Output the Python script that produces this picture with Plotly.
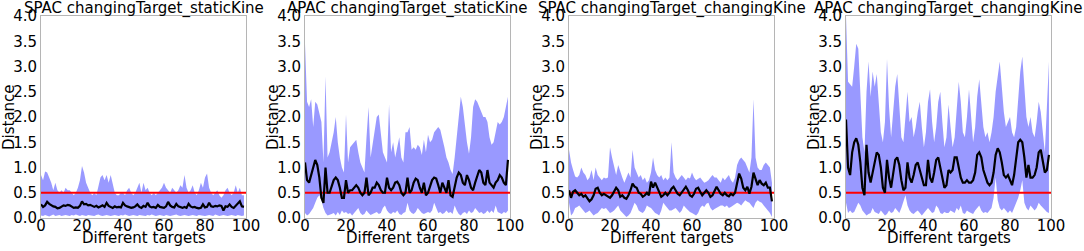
import plotly.graph_objects as go

X = list(range(100))
THRESHOLD = 0.5
TITLES = ["SPAC changingTarget_staticKine", "APAC changingTarget_staticKine",
          "SPAC changingTarget_changingKine", "APAC changingTarget_changingKine"]
X_TICKS = [0, 20, 40, 60, 80, 100]
Y_TICKS = [0.0, 0.5, 1.0, 1.5, 2.0, 2.5, 3.0, 3.5, 4.0]

p1_upper = [0.85, 0.75, 0.92, 0.9, 0.8, 0.7, 0.55, 0.7, 0.55, 0.5,
            0.55, 0.5, 0.6, 0.55, 0.55, 0.5, 0.45, 0.5, 0.6, 0.75,
            1.03, 0.9, 0.7, 0.6, 0.5, 0.45, 0.5, 0.45, 0.6, 0.8,
            0.85, 0.75, 0.85, 0.7, 0.85, 0.7, 0.5, 0.45, 0.45, 0.5,
            0.5, 0.45, 0.55, 0.6, 0.5, 0.45, 0.5, 0.6, 0.7, 0.5,
            0.7, 0.55, 0.6, 0.5, 0.45, 0.5, 0.45, 0.5, 0.55, 0.6,
            0.7, 0.6, 0.55, 0.5, 0.6, 0.55, 0.5, 0.55, 0.65, 0.6,
            0.85, 0.6, 0.5, 0.55, 0.65, 0.5, 0.45, 0.55, 0.7, 0.6,
            0.8, 0.88, 0.6, 0.5, 0.45, 0.5, 0.55, 0.45, 0.4, 0.45,
            0.55, 0.6, 0.5, 0.45, 0.5, 0.65, 0.5, 0.6, 0.45, 0.45]
p1_lower = [0.05, 0.04, 0.06, 0.05, 0.03, 0.05, 0.07, 0.04, 0.05, 0.06,
            0.04, 0.05, 0.06, 0.05, 0.04, 0.06, 0.05, 0.07, 0.05, 0.04,
            0.06, 0.05, 0.04, 0.06, 0.05, 0.05, 0.04, 0.06, 0.07, 0.05,
            0.04, 0.05, 0.06, 0.05, 0.04, 0.05, 0.06, 0.05, 0.04, 0.06,
            0.05, 0.07, 0.05, 0.04, 0.05, 0.06, 0.05, 0.04, 0.06, 0.05,
            0.05, 0.04, 0.06, 0.05, 0.07, 0.05, 0.04, 0.05, 0.06, 0.05,
            0.04, 0.06, 0.05, 0.04, 0.05, 0.06, 0.07, 0.05, 0.04, 0.05,
            0.06, 0.05, 0.04, 0.05, 0.06, 0.05, 0.04, 0.06, 0.05, 0.05,
            0.04, 0.05, 0.06, 0.05, 0.04, 0.07, 0.05, 0.04, 0.05, 0.06,
            0.05, 0.04, 0.05, 0.06, 0.05, 0.04, 0.06, 0.05, 0.04, 0.05]
p1_mean = [0.27, 0.22, 0.25, 0.32, 0.28, 0.25, 0.23, 0.22, 0.19, 0.2,
           0.22, 0.25, 0.24, 0.26, 0.25, 0.22, 0.2, 0.21, 0.2, 0.24,
           0.33, 0.27, 0.28, 0.25, 0.26, 0.24, 0.22, 0.24, 0.21, 0.23,
           0.25, 0.22, 0.3, 0.24, 0.22, 0.2, 0.23, 0.21, 0.22, 0.21,
           0.3, 0.25, 0.23, 0.22, 0.2, 0.21, 0.23, 0.27, 0.22, 0.2,
           0.24, 0.22, 0.3, 0.23, 0.21, 0.22, 0.2, 0.26, 0.22, 0.21,
           0.2, 0.23, 0.32, 0.25, 0.22, 0.21, 0.28, 0.23, 0.22, 0.2,
           0.22, 0.2, 0.28, 0.23, 0.21, 0.22, 0.2, 0.19, 0.2, 0.27,
           0.21, 0.22, 0.3, 0.23, 0.22, 0.24, 0.23, 0.25, 0.24, 0.15,
           0.23, 0.22, 0.27, 0.22, 0.2, 0.24, 0.27, 0.33, 0.23, 0.22]

p2_upper = [3.45, 2.3, 2.2, 2.35, 1.8, 2.3, 2.25, 2.1, 1.9, 1.1,
            2.8, 1.2, 1.3, 1.5, 1.7, 2.0, 1.5, 1.2, 1.0, 0.9,
            2.05, 1.1, 1.4, 1.45, 1.5, 1.55, 1.3, 1.1, 1.0, 0.9,
            1.6, 2.2, 1.2, 1.5, 1.8, 2.0, 2.05, 1.7, 1.3, 1.2,
            1.1, 2.25, 1.3, 1.5, 1.2, 1.4, 1.6, 1.2, 1.1, 1.7,
            1.7, 1.8, 1.35, 1.4, 1.35, 1.45, 1.4, 1.25, 1.55, 1.3,
            1.65, 1.5, 1.55, 1.7, 1.75, 1.8, 1.75, 1.6, 1.4, 1.2,
            1.1, 0.95, 0.87, 1.2, 1.6, 2.0, 2.4, 2.2, 1.8, 1.5,
            1.27, 1.6, 2.2, 2.35, 2.3, 2.2, 2.1, 2.0, 2.0, 1.9,
            1.6, 1.45, 1.5, 1.7, 1.9, 1.85, 1.9, 2.0, 2.2, 2.4]
p2_lower = [0.1, 0.05, 0.08, 0.15, 0.2, 0.3, 0.4, 0.45, 0.35, 0.2,
            0.1, 0.05, 0.06, 0.08, 0.1, 0.05, 0.12, 0.06, 0.15, 0.1,
            0.12, 0.08, 0.1, 0.05, 0.1, 0.15, 0.2, 0.1, 0.06, 0.08,
            0.15, 0.1, 0.06, 0.08, 0.1, 0.12, 0.08, 0.1, 0.2, 0.25,
            0.15, 0.1, 0.08, 0.12, 0.1, 0.15, 0.08, 0.06, 0.1, 0.12,
            0.3, 0.15, 0.1, 0.08, 0.12, 0.2, 0.15, 0.1, 0.08, 0.1,
            0.12, 0.1, 0.15, 0.3, 0.2, 0.1, 0.12, 0.08, 0.1, 0.15,
            0.1, 0.12, 0.08, 0.25, 0.15, 0.08, 0.05, 0.1, 0.12, 0.08,
            0.15, 0.1, 0.12, 0.2, 0.15, 0.1, 0.12, 0.08, 0.1, 0.15,
            0.1, 0.15, 0.1, 0.25, 0.12, 0.1, 0.08, 0.12, 0.1, 0.15]
p2_mean = [1.1, 0.75, 0.7, 0.85, 1.0, 1.15, 1.05, 0.8, 0.4, 0.3,
           1.0, 0.5, 0.5, 0.65, 0.75, 0.8, 0.75, 0.6, 0.4, 0.4,
           0.75, 0.5, 0.55, 0.55, 0.6, 0.65, 0.6, 0.5, 0.45, 0.5,
           0.8, 0.45, 0.5, 0.6, 0.6, 0.7, 0.65, 0.55, 0.5, 0.5,
           0.8, 0.6, 0.55, 0.6, 0.7, 0.72, 0.65, 0.5, 0.45, 0.5,
           0.8, 0.5, 0.55, 0.7, 0.78, 0.75, 0.6, 0.5, 0.7, 0.45,
           0.5, 0.65, 0.75, 0.8, 0.78, 0.65, 0.5, 0.7, 0.6, 0.5,
           0.75, 0.45, 0.42, 0.6, 0.8, 0.9, 0.85, 0.7, 0.65, 0.85,
           0.75, 0.6, 0.55, 0.7, 0.85, 0.95, 0.9, 0.7, 0.65, 0.95,
           0.7, 0.65, 0.6, 0.7, 0.75, 0.85, 0.8, 0.7, 0.65, 1.15]

p3_upper = [1.35, 1.1, 0.95, 0.82, 0.8, 0.85, 1.0, 0.9, 0.85, 0.75,
            0.8, 0.95, 0.75, 1.0, 0.85, 0.8, 0.75, 0.8, 0.78, 0.8,
            1.4, 1.2, 1.0, 0.85, 1.05, 0.9, 0.8, 0.7, 0.8, 0.9,
            0.8, 1.35, 1.0, 0.9, 0.8, 0.85, 0.75, 0.8, 0.7, 0.75,
            0.9, 1.2, 0.95, 0.85, 0.8, 0.85, 0.75, 0.8, 0.75, 0.8,
            1.5, 0.9, 0.8, 0.75, 0.8, 0.85, 0.8, 0.75, 0.8, 0.78,
            0.9, 0.8, 0.75, 0.78, 0.8, 0.75, 0.7, 0.72, 0.75, 0.8,
            0.85, 0.8, 0.8, 0.75, 0.7, 0.8, 0.75, 0.8, 0.85, 0.75,
            0.7, 0.8, 1.05, 1.15, 1.2, 1.15, 1.1, 1.0, 0.9, 1.2,
            2.35, 1.2, 1.0, 0.95, 0.95, 1.05, 1.1, 1.05, 1.0, 0.7]
p3_lower = [0.3, 0.05, 0.1, 0.2, 0.22, 0.25, 0.2, 0.15, 0.1, 0.12,
            0.15, 0.1, 0.05, 0.08, 0.1, 0.15, 0.2, 0.18, 0.2, 0.15,
            0.1, 0.12, 0.15, 0.2, 0.25, 0.15, 0.1, 0.05, 0.02, 0.05,
            0.1, 0.2, 0.3, 0.25, 0.15, 0.12, 0.1, 0.15, 0.25, 0.22,
            0.2, 0.15, 0.1, 0.08, 0.05, 0.15, 0.3, 0.25, 0.2, 0.15,
            0.15, 0.18, 0.2, 0.15, 0.1, 0.15, 0.25, 0.2, 0.15, 0.12,
            0.1, 0.08, 0.05, 0.1, 0.2, 0.25, 0.22, 0.28, 0.3, 0.2,
            0.15, 0.18, 0.2, 0.22, 0.25, 0.25, 0.22, 0.25, 0.2, 0.22,
            0.25, 0.28, 0.3, 0.28, 0.25, 0.3, 0.35, 0.32, 0.3, 0.25,
            0.2, 0.3, 0.35, 0.32, 0.3, 0.25, 0.2, 0.15, 0.1, 0.02]
p3_mean = [0.55, 0.4, 0.52, 0.55, 0.5, 0.45, 0.48, 0.42, 0.45, 0.38,
           0.33, 0.37, 0.45, 0.58, 0.6, 0.5, 0.45, 0.48, 0.45, 0.42,
           0.4, 0.45, 0.52, 0.6, 0.55, 0.42, 0.45, 0.4, 0.38, 0.45,
           0.55, 0.68, 0.62, 0.6, 0.5, 0.48, 0.42, 0.45, 0.5, 0.45,
           0.72, 0.6, 0.7, 0.6, 0.5, 0.42, 0.45, 0.5, 0.45, 0.5,
           0.58, 0.62, 0.55, 0.48, 0.45, 0.5, 0.55, 0.62, 0.55, 0.45,
           0.42, 0.48, 0.58, 0.6, 0.52, 0.45, 0.5, 0.55, 0.5, 0.42,
           0.45, 0.55, 0.62, 0.55, 0.48, 0.45, 0.5, 0.45, 0.43, 0.48,
           0.45, 0.5, 0.7, 0.88, 0.78, 0.6, 0.55, 0.62, 0.48, 0.62,
           0.9, 0.75, 0.65, 0.75, 0.68, 0.65, 0.7, 0.6, 0.6, 0.33]

p4_upper = [4.0, 2.7, 2.65, 2.6, 3.0, 3.45, 3.35, 2.4, 1.6, 1.3,
            2.5, 3.1, 2.4, 2.9, 2.6, 2.85, 2.3, 1.7, 1.5, 1.9,
            3.15, 2.2, 1.6, 2.2, 2.6, 2.85, 2.2, 1.6, 1.5, 2.0,
            2.5, 1.9, 2.0, 1.6, 1.8, 2.1, 2.3, 1.8, 1.4, 1.7,
            2.3, 2.55, 1.9, 1.5, 1.8, 2.3, 2.5, 1.9, 1.4, 1.6,
            2.25, 1.8, 1.4, 1.6, 2.2, 2.7, 2.3, 1.7, 1.6, 2.0,
            2.55, 2.0, 1.5, 1.8, 2.4, 2.75, 2.3, 1.8, 1.6, 1.7,
            1.5, 1.7, 2.0, 2.5, 2.8, 3.1, 2.6, 2.1, 1.8, 1.9,
            2.0, 1.7, 1.6, 1.8, 2.4, 2.9, 3.2, 2.6, 2.0, 1.8,
            2.0, 1.7, 1.6, 1.9, 2.3, 2.1, 1.7, 1.3, 2.2, 3.1]
p4_lower = [0.3, 0.1, 0.15, 0.1, 0.12, 0.2, 0.3, 0.25, 0.15, 0.1,
            0.05, 0.08, 0.1, 0.2, 0.12, 0.1, 0.08, 0.15, 0.1, 0.05,
            0.08, 0.15, 0.1, 0.12, 0.2, 0.15, 0.1, 0.2, 0.35, 0.45,
            0.25, 0.15, 0.1, 0.08, 0.12, 0.15, 0.1, 0.05, 0.1, 0.15,
            0.2, 0.15, 0.1, 0.12, 0.25, 0.2, 0.1, 0.08, 0.12, 0.1,
            0.1, 0.15, 0.12, 0.1, 0.2, 0.15, 0.25, 0.1, 0.08, 0.15,
            0.12, 0.1, 0.08, 0.15, 0.2, 0.25, 0.15, 0.1, 0.12, 0.1,
            0.15, 0.2, 0.4, 0.8, 0.35, 0.2, 0.15, 0.2, 0.15, 0.1,
            0.15, 0.1, 0.2, 0.3, 0.4, 0.55, 0.75, 0.3, 0.2, 0.15,
            0.25, 0.2, 0.15, 0.2, 0.3, 0.25, 0.2, 0.15, 0.12, 0.1]
p4_mean = [1.95, 1.0, 0.85, 1.3, 1.5, 1.58, 1.45, 1.1, 0.6, 0.45,
           1.45, 0.9, 0.7, 0.9, 1.15, 1.3, 1.25, 1.0, 0.6, 0.5,
           1.15, 0.8, 0.6, 0.85, 1.15, 1.2, 1.05, 0.75, 0.55, 0.6,
           1.1, 0.8, 0.7, 0.85, 1.05, 1.1, 0.95, 0.75, 0.65, 0.65,
           1.15, 0.8, 0.7, 0.9, 1.15, 1.2, 1.0, 0.75, 0.6, 0.65,
           0.95, 0.9, 0.95, 1.2, 1.2, 1.0, 0.8, 0.7, 0.7, 0.75,
           0.7, 0.7, 0.75, 0.9, 1.25, 1.3, 1.2, 0.95, 0.8, 0.7,
           0.65, 0.7, 0.9, 1.25, 1.38, 1.3, 1.1, 0.85, 0.8, 0.85,
           0.75, 0.65, 0.85, 1.2, 1.5, 1.55, 1.5, 1.2, 0.8, 1.05,
           0.8, 0.8, 0.85, 1.0, 1.3, 1.35, 1.15, 0.9, 0.95, 1.25]

PANELS = [(p1_lower, p1_upper, p1_mean), (p2_lower, p2_upper, p2_mean),
          (p3_lower, p3_upper, p3_mean), (p4_lower, p4_upper, p4_mean)]

W, H = 1084, 251
LEFTS = [41, 305, 569, 846]   # screen px
PW = 205
TOP, BOT = 16, 218            # screen px
FONT = "DejaVu Sans"


def fx(sx):
    return sx / W


def fy(sy):
    return (H - sy) / H


fig = go.Figure()
layout = dict(width=W, height=H, margin=dict(l=0, r=0, t=0, b=0, autoexpand=False),
              paper_bgcolor="white", plot_bgcolor="white", showlegend=False,
              font=dict(family=FONT, size=15, color="black"))
annotations = []
for i, (lo, up, mn) in enumerate(PANELS):
    sfx = "" if i == 0 else str(i + 1)
    xa, ya = "x" + sfx, "y" + sfx
    fig.add_trace(go.Scatter(x=X, y=lo, mode="lines", line=dict(width=0),
                             xaxis=xa, yaxis=ya, hoverinfo="skip"))
    fig.add_trace(go.Scatter(x=X, y=up, mode="lines", line=dict(width=0),
                             fill="tonexty", fillcolor="rgba(0,0,255,0.4)",
                             xaxis=xa, yaxis=ya, hoverinfo="skip"))
    fig.add_trace(go.Scatter(x=[0, 100], y=[THRESHOLD, THRESHOLD], mode="lines",
                             line=dict(color="red", width=2), xaxis=xa, yaxis=ya))
    fig.add_trace(go.Scatter(x=X, y=mn, mode="lines",
                             line=dict(color="black", width=2.2), xaxis=xa, yaxis=ya))
    x0 = fx(LEFTS[i])
    x1 = fx(LEFTS[i] + PW)
    axis_common = dict(showline=True, linecolor="#b5b5b5", linewidth=1, mirror=True,
                       showgrid=False, zeroline=False, ticks="", automargin=False,
                       ticklabeloverflow="allow",
                       tickfont=dict(family=FONT, size=15, color="black"))
    layout["xaxis" + sfx] = dict(domain=[x0, x1], range=[0, 100], tickvals=X_TICKS,
                                 anchor=ya, ticklabelstandoff=-6, **axis_common)
    layout["yaxis" + sfx] = dict(domain=[fy(BOT), fy(TOP)], range=[0, 4.0],
                                 tickvals=Y_TICKS, tickformat=".1f", anchor=xa,
                                 **axis_common)
    annotations.append(dict(text=TITLES[i], xref="paper", yref="paper",
                            x=(x0 + x1) / 2, y=fy(9), xanchor="center", yanchor="middle",
                            showarrow=False, font=dict(family=FONT, size=15)))
    annotations.append(dict(text="Different targets", xref="paper", yref="paper",
                            x=(x0 + x1) / 2, y=fy(238), xanchor="center", yanchor="middle",
                            showarrow=False, font=dict(family=FONT, size=15)))
    annotations.append(dict(text="Distance", xref="paper", yref="paper",
                            x=fx(LEFTS[i] - 32), y=fy(117), xanchor="center",
                            yanchor="middle", textangle=-90,
                            showarrow=False, font=dict(family=FONT, size=15)))
layout["annotations"] = annotations
fig.update_layout(**layout)
fig.write_html("out.html", config={"displayModeBar": False},
               post_script="document.documentElement.style.margin='0';"
                           "document.body.style.margin='0';"
                           "document.body.style.overflow='hidden';")
